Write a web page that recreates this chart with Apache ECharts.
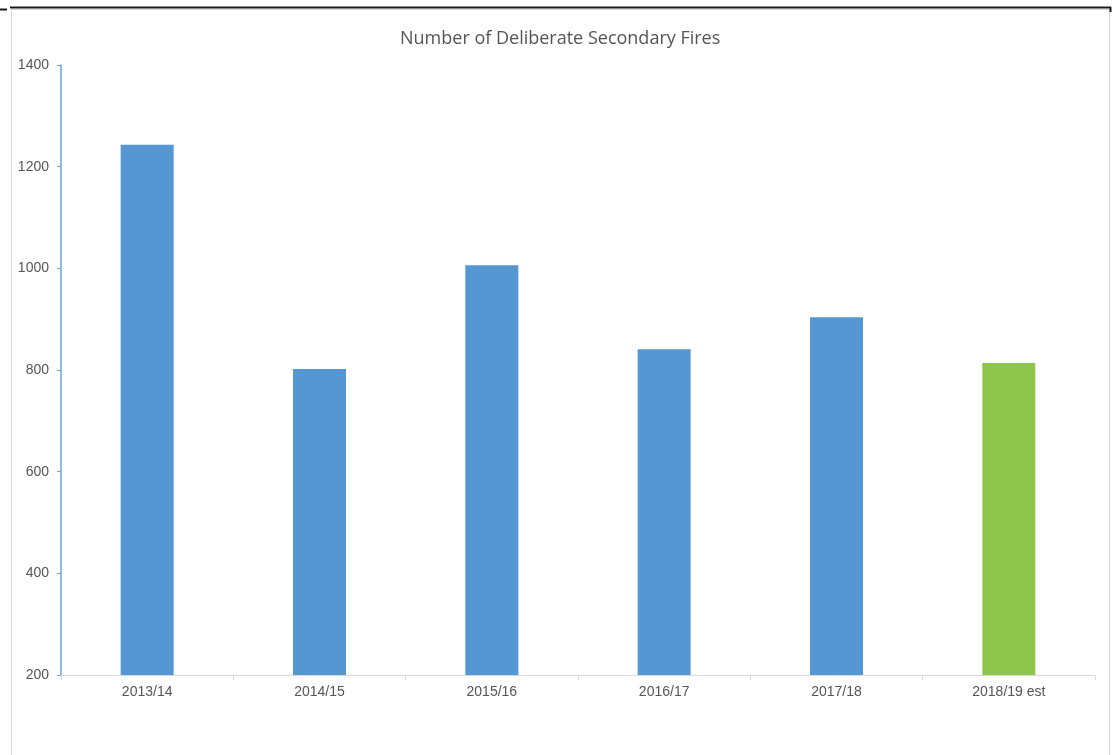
<!DOCTYPE html>
<html>
<head>
<meta charset="utf-8">
<script src="https://cdn.jsdelivr.net/npm/echarts@6/dist/echarts.min.js"></script>
<style>
  html, body { margin: 0; padding: 0; background: #ffffff; }
  #chart { width: 1113px; height: 755px; }
</style>
</head>
<body>
<div id="chart"></div>
<script>
// Financial years and the count of deliberate secondary fires in each
const categories = ['2013/14', '2014/15', '2015/16', '2016/17', '2017/18', '2018/19 est'];
const fires = [1243, 802, 1006, 841, 904, 814];
const barColors = ['#5597d3', '#5597d3', '#5597d3', '#5597d3', '#5597d3', '#8dc64a'];
const yTicks = { min: 200, max: 1400, interval: 200 };

const chart = echarts.init(document.getElementById('chart'));
chart.setOption({
  animation: false,
  backgroundColor: '#ffffff',
  title: {
    text: 'Number of Deliberate Secondary Fires',
    left: 395,
    top: 25,
    textStyle: { fontFamily: 'Open Sans', fontSize: 18, fontWeight: 'normal', color: '#555555' }
  },
  graphic: [
    // panel frame
    { type: 'rect', shape: { x: 11.5, y: 9.5, width: 1098, height: 760 },
      style: { fill: 'none', stroke: '#d6d6d6', lineWidth: 1 }, silent: true },
    // dark rule along the top
    { type: 'line', shape: { x1: 10, y1: 7.5, x2: 1111, y2: 7.5 },
      style: { stroke: '#1a1a1a', lineWidth: 2 }, silent: true },
    { type: 'line', shape: { x1: 0, y1: 9.5, x2: 7, y2: 9.5 },
      style: { stroke: '#1a1a1a', lineWidth: 2 }, silent: true },
    { type: 'line', shape: { x1: 1110.5, y1: 7, x2: 1110.5, y2: 12 },
      style: { stroke: '#1a1a1a', lineWidth: 2 }, silent: true }
  ],
  grid: { left: 61, right: 18, top: 65, bottom: 80, containLabel: false },
  xAxis: {
    type: 'category',
    data: categories,
    boundaryGap: true,
    axisLine: { lineStyle: { color: '#d9d9d9', width: 1 } },
    axisTick: { show: true, alignWithLabel: false, length: 5, lineStyle: { color: '#d9d9d9' } },
    axisLabel: { color: '#555555', fontFamily: 'Liberation Sans', fontSize: 14, margin: 10 }
  },
  yAxis: {
    type: 'value',
    min: yTicks.min,
    max: yTicks.max,
    interval: yTicks.interval,
    axisLine: { show: true, lineStyle: { color: '#6fa6d8', width: 1.5 } },
    axisTick: { show: true, length: 4, lineStyle: { color: '#6fa6d8' } },
    splitLine: { show: false },
    axisLabel: {
      color: '#555555', fontFamily: 'Liberation Sans', fontSize: 14, margin: 12,
      formatter: (v) => String(v)
    }
  },
  series: [{
    type: 'bar',
    data: fires.map((v, i) => ({ value: v, itemStyle: { color: barColors[i] } })),
    barWidth: 53
  }]
});
</script>
</body>
</html>
